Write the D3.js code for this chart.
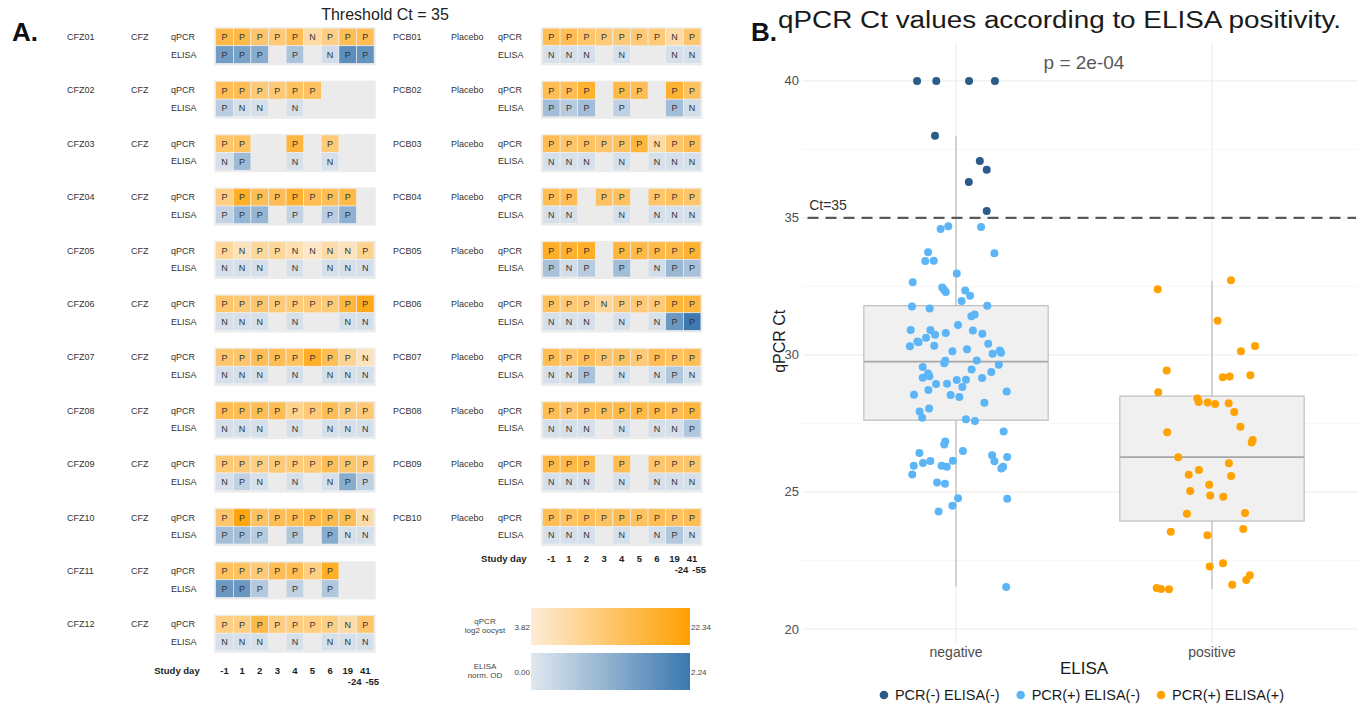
<!DOCTYPE html>
<html><head><meta charset="utf-8">
<script src="https://cdn.jsdelivr.net/npm/d3@7"></script>
<style>body{margin:0;background:#fff}svg{display:block;font-family:"Liberation Sans",Arial,sans-serif}</style>
</head><body><svg id="c" width="1358" height="706"></svg>
<script>
// ---------- Panel A data ----------
const studyDays = ["-1","1","2","3","4","5","6","19","41"];
const studyDaysSub = ["","","","","","","","-24","-55"];
const cfzIds = ["CFZ01","CFZ02","CFZ03","CFZ04","CFZ05","CFZ06","CFZ07","CFZ08","CFZ09","CFZ10","CFZ11","CFZ12"];
const pcbIds = ["PCB01","PCB02","PCB03","PCB04","PCB05","PCB06","PCB07","PCB08","PCB09","PCB10"];
const cfzQpcrCalls = ["PPPPPNPPP","PPPPPP---","PP--P-P--","PPPPPPPP-","PNPPNNNNP","PPPPPPPPP","PPPPPPPPN","PPPPPPPPP","PPPPPPPPP","PPPPPPPPN","PPPPPPP--","PPPPPPPNP"];
const cfzElisaCalls = ["PPP-P-NPP","PNN-N----","NP--N-N--","PPP-P-PP-","NNN-N-NNN","NNN-N--NN","NNN-N-NNN","NNN-N-NNN","NPN-N-NPP","PPP-P-PNN","PPP-P-P--","NNN-N-NNN"];
const cfzQpcrValues = [
  [16,16,13,12,15,8,11,15,15],
  [15,15,12,12,14,14,null,null,null],
  [13,14,null,null,17,null,12,null,null],
  [11,19,15,15,18,15,15,16,null],
  [9,6,9,9,7,5,8,6,10],
  [13,12,13,12,12,12,12,17,20],
  [13,13,15,15,14,19,15,10,6],
  [15,15,15,15,10,12,15,12,12],
  [12,12,11,12,12,12,15,13,12],
  [13,21,14,15,15,16,16,15,8],
  [14,14,12,15,15,11,19,null,null],
  [11,11,16,11,11,11,11,8,13]
];
const cfzElisaValues = [
  [1.5,1.4,1.2,null,0.7,null,0.2,1.8,1.7],
  [0.5,0.15,0.15,null,0.15,null,null,null,null],
  [0.15,0.9,null,null,0.15,null,0.15,null,null],
  [0.4,1.0,1.0,null,0.4,null,0.5,1.1,null],
  [0.15,0.15,0.15,null,0.15,null,0.15,0.15,0.15],
  [0.15,0.15,0.15,null,0.15,null,null,0.15,0.15],
  [0.15,0.15,0.15,null,0.15,null,0.15,0.15,0.15],
  [0.15,0.15,0.15,null,0.15,null,0.15,0.15,0.15],
  [0.15,0.45,0.15,null,0.15,null,0.15,1.2,0.45],
  [0.8,0.8,0.55,null,0.65,null,1.2,0.15,0.15],
  [1.6,1.6,0.6,null,0.45,null,0.65,null,null],
  [0.15,0.15,0.15,null,0.15,null,0.15,0.15,0.15]
];
const pcbQpcrCalls = ["PPPPPPPNP","PPP-PP-PP","PPPPPPNPP","PP-PP-PPP","PPP-PPPPP","PPPNPPPPP","PPPPPPPPP","PPPPPPPPP","PPP-P-PPP","PPPPPPPPP"];
const pcbElisaCalls = ["NNN-N--NN","PPP-P--PN","NNN-N-NNN","NN--N-NNN","PNP-P-NPP","NNN-N-NPP","NNP-N-NPN","NNN-N-NNP","NNN-N-NNN","NNN-N-NPN"];
const pcbQpcrValues = [
  [15,15,13,12,12,12,12,8,13],
  [15,15,18,null,16,15,null,18,14],
  [15,13,14,13,14,17,8,13,15],
  [15,15,null,14,14,null,13,14,13],
  [19,18,19,null,17,16,16,16,18],
  [14,12,12,9,12,12,12,17,17],
  [15,13,15,13,14,12,15,14,15],
  [15,13,15,15,16,16,16,15,17],
  [16,16,16,null,15,null,13,13,13],
  [15,14,15,14,15,14,15,14,15]
];
const pcbElisaValues = [
  [0.15,0.15,0.15,null,0.15,null,null,0.15,0.15],
  [0.85,0.55,0.85,null,0.45,null,null,0.85,0.2],
  [0.15,0.15,0.15,null,0.15,null,0.15,0.15,0.15],
  [0.15,0.15,null,null,0.15,null,0.15,0.15,0.15],
  [0.75,0.2,0.55,null,0.85,null,0.2,0.95,0.75],
  [0.15,0.15,0.15,null,0.15,null,0.15,1.6,2.2],
  [0.15,0.15,0.75,null,0.15,null,0.15,0.65,0.15],
  [0.15,0.15,0.15,null,0.15,null,0.15,0.15,0.65],
  [0.15,0.15,0.15,null,0.15,null,0.15,0.15,0.15],
  [0.15,0.15,0.15,null,0.15,null,0.15,0.65,0.15]
];
const qpcrRange = [3.82, 22.34];
const elisaRange = [0.00, 2.24];

// ---------- Panel B data ----------
const categories = ["negative","positive"];
const darkCt = [40,40,40,40,38.0,37.08,36.76,36.31,35.25];
const darkJitter = [-0.152,-0.077,0.051,0.152,-0.082,0.093,0.120,0.050,0.120];
const lightCt = [34.6,34.7,34.67,33.75,33.43,33.44,33.71,32.97,32.65,32.46,32.37,32.3,32.35,32.16,31.97,31.77,31.7,31.8,31.41,31.48,31.09,30.91,30.91,30.63,30.74,30.8,30.89,30.77,30.49,30.46,30.32,30.34,30.41,30.14,30.21,30.04,30.16,30.08,29.79,29.7,29.8,29.64,29.56,29.32,29.22,29.17,29.47,29.38,28.94,28.95,29.09,29.1,29.16,28.83,28.72,28.55,28.54,28.47,28.67,28.26,28.05,27.94,27.71,27.65,27.59,27.21,26.84,26.73,26.42,26.5,26.34,26.28,26.12,25.96,26.06,26.13,25.96,25.92,26.14,25.92,25.86,25.64,25.35,25.30,24.77,24.75,24.50,24.29,21.53];
const lightJitter = [-0.060,-0.030,0.098,-0.109,-0.120,-0.087,0.150,0.003,-0.169,-0.054,-0.046,-0.040,0.036,0.055,0.022,-0.172,-0.103,0.122,0.060,0.073,0.008,-0.177,-0.100,-0.117,-0.082,-0.040,0.066,0.103,-0.151,-0.146,-0.180,-0.085,0.126,-0.014,0.043,0.143,0.171,0.176,-0.042,-0.046,0.081,0.167,-0.130,-0.109,-0.104,-0.130,0.061,0.138,-0.078,-0.035,0.003,0.039,0.102,0.025,-0.108,-0.164,-0.021,0.013,0.198,0.111,-0.105,-0.142,-0.132,0.039,0.074,0.186,-0.042,-0.046,-0.143,0.027,0.141,0.200,0.150,-0.165,-0.129,-0.100,-0.056,-0.036,-0.012,0.184,0.177,-0.171,-0.074,-0.043,0.008,0.200,-0.014,-0.068,0.196];
const orangeCt = [32.73,32.4,31.25,30.33,30.14,29.43,29.19,29.21,29.26,28.64,28.41,28.28,28.27,28.21,28.24,27.92,27.38,26.9,26.81,27.18,26.27,26.05,25.58,25.8,25.63,25.26,25.04,24.87,24.83,24.21,24.23,23.55,23.42,23.65,22.4,22.28,21.96,21.79,21.62,21.5,21.46,21.45];
const orangeJitter = [0.074,-0.212,0.022,0.168,0.113,-0.177,0.042,0.069,0.150,-0.210,-0.057,-0.052,-0.017,0.012,0.065,0.087,0.111,0.159,0.155,-0.175,-0.132,0.066,0.075,-0.051,-0.091,-0.011,-0.085,-0.007,0.044,-0.098,0.129,-0.161,-0.018,0.122,0.043,-0.009,0.148,0.134,0.079,-0.216,-0.199,-0.168];
// box stats: [lower whisker, Q1, median, Q3, upper whisker]
const boxNegative = [21.54, 27.62, 29.76, 31.80, 38.0];
const boxPositive = [21.46, 23.94, 26.27, 28.50, 32.71];
const yTicks = [20,25,30,35,40];
const legendLabels = ["PCR(-) ELISA(-)","PCR(+) ELISA(-)","PCR(+) ELISA(+)"];
const seriesColors = ["#2b5b88","#5cb5f6","#ffa202"];

// ---------- drawing ----------
const svg = d3.select("#c");
const defs = svg.append("defs");
const qColor = d3.scaleLinear().domain(qpcrRange).range(["#fdecd6","#ffa000"]);
const eColor = d3.scaleLinear().domain(elisaRange).range(["#e0e7ef","#3b78af"]);

svg.append("text").attr("x",12).attr("y",41).attr("font-size",26).attr("font-weight","bold").attr("fill","#111").text("A.");
svg.append("text").attr("x",385).attr("y",20).attr("text-anchor","middle").attr("font-size",16).attr("fill","#222").text("Threshold Ct = 35");

function drawHeat(ids, groupLabel, qCalls, qVals, eCalls, eVals, L) {
  const g = svg.append("g");
  const yRow = d3.scaleLinear().domain([0, 1]).range([37, 90.4]);
  const xCell = d3.scaleBand().domain(d3.range(studyDays.length)).range([L.gridX, L.gridX + 158.4]);
  const bw = xCell.bandwidth(), ch = 17.6;
  ids.forEach((id, i) => {
    const cy = yRow(i);
    g.append("rect").attr("x", L.gridX - 1.6).attr("y", cy - 9.8).attr("width", 158.4 + 3.2).attr("height", 2*ch + 3).attr("fill", "#ebebeb");
    const lab = (x, y, t) => g.append("text").attr("x", x).attr("y", y).attr("font-size", 9).attr("fill", "#333").text(t);
    lab(L.idX, cy + 3, id);
    lab(L.grpX, cy + 3, groupLabel);
    lab(L.rowX, cy + 3, "qPCR");
    lab(L.rowX, cy + ch + 3, "ELISA");
    [[qCalls[i], qVals[i], qColor, cy - ch/2], [eCalls[i], eVals[i], eColor, cy + ch/2]].forEach(([calls, vals, col, top]) => {
      calls.split("").forEach((c, j) => {
        if (c === "-") return;
        g.append("rect").attr("x", xCell(j)).attr("y", top).attr("width", bw).attr("height", ch)
          .attr("fill", col(vals[j])).attr("stroke", "#f2f2f2").attr("stroke-width", 0.6);
        g.append("text").attr("x", xCell(j) + bw/2).attr("y", top + ch/2 + 3.2).attr("text-anchor", "middle")
          .attr("font-size", 9).attr("fill", "#333").text(c);
      });
    });
  });
  g.append("text").attr("x", L.gridX - 16).attr("y", L.dayY).attr("text-anchor", "end").attr("font-size", 9.5).attr("font-weight", "bold").attr("fill","#222").text("Study day");
  studyDays.forEach((d, j) => {
    g.append("text").attr("x", xCell(j) + bw/2).attr("y", L.dayY).attr("text-anchor", "middle").attr("font-size", 9.5).attr("font-weight", "bold").attr("fill","#222").text(d);
    if (studyDaysSub[j]) g.append("text").attr("x", xCell(j) + bw/2 + 7).attr("y", L.dayY + 11).attr("text-anchor", "middle").attr("font-size", 9.5).attr("font-weight", "bold").attr("fill","#222").text(studyDaysSub[j]);
  });
}
drawHeat(cfzIds, "CFZ", cfzQpcrCalls, cfzQpcrValues, cfzElisaCalls, cfzElisaValues, {idX: 67, grpX: 131, rowX: 171, gridX: 215.7, dayY: 674});
drawHeat(pcbIds, "Placebo", pcbQpcrCalls, pcbQpcrValues, pcbElisaCalls, pcbElisaValues, {idX: 393, grpX: 451, rowX: 498, gridX: 542.5, dayY: 562});

// colour bars
function colorBar(id, scale, y0, title1, title2, range) {
  const grad = defs.append("linearGradient").attr("id", id);
  d3.range(0, 1.0001, 0.1).forEach(t => grad.append("stop").attr("offset", t).attr("stop-color", scale(range[0] + t*(range[1]-range[0]))));
  svg.append("rect").attr("x", 531).attr("y", y0).attr("width", 159).attr("height", 37).attr("fill", `url(#${id})`);
  svg.append("text").attr("x", 485).attr("y", y0 + 16).attr("text-anchor", "middle").attr("font-size", 8).attr("fill","#444").text(title1);
  svg.append("text").attr("x", 485).attr("y", y0 + 25).attr("text-anchor", "middle").attr("font-size", 8).attr("fill","#444").text(title2);
  svg.append("text").attr("x", 530).attr("y", y0 + 22).attr("text-anchor", "end").attr("font-size", 8).attr("fill","#444").text(range[0].toFixed(2));
  svg.append("text").attr("x", 691).attr("y", y0 + 22).attr("font-size", 8).attr("fill","#444").text(range[1].toFixed(2));
}
colorBar("gq", qColor, 608, "qPCR", "log2 oocyst", qpcrRange);
colorBar("ge", eColor, 653, "ELISA", "norm. OD", elisaRange);

// ---------- Panel B ----------
const xB = d3.scaleLinear().domain([0.4, 2.6]).range([802.4, 1365.6]);
const yB = d3.scaleLinear().domain([19.49, 41.42]).range([643, 42]);
const gB = svg.append("g");
svg.append("text").attr("x",751).attr("y",41).attr("font-size",26).attr("font-weight","bold").attr("fill","#111").text("B.");
gB.append("text").attr("x",778).attr("y",28).attr("font-size",23).attr("textLength",563).attr("lengthAdjust","spacingAndGlyphs").attr("fill","#1a1a1a").text("qPCR Ct values according to ELISA positivity.");
// grid
d3.range(22.5, 41, 5).forEach(v => gB.append("line").attr("x1", xB(0.4)).attr("x2", 1358).attr("y1", yB(v)).attr("y2", yB(v)).attr("stroke", "#f4f4f4").attr("stroke-width", 0.7));
yTicks.forEach(v => gB.append("line").attr("x1", xB(0.4)).attr("x2", 1358).attr("y1", yB(v)).attr("y2", yB(v)).attr("stroke", "#ebebeb").attr("stroke-width", 1));
[1,2].forEach(v => gB.append("line").attr("x1", xB(v)).attr("x2", xB(v)).attr("y1", yB(41.42)).attr("y2", yB(19.49)).attr("stroke", "#ebebeb").attr("stroke-width", 1));
// axes text
yTicks.forEach(v => gB.append("text").attr("x", 799).attr("y", yB(v) + 4.5).attr("text-anchor","end").attr("font-size", 13).attr("fill","#4d4d4d").text(v));
categories.forEach((c, i) => gB.append("text").attr("x", xB(i+1)).attr("y", 657).attr("text-anchor","middle").attr("font-size", 14).attr("fill","#4d4d4d").text(c));
gB.append("text").attr("x", xB(1.5)).attr("y", 674).attr("text-anchor","middle").attr("font-size", 17).attr("fill","#1a1a1a").text("ELISA");
gB.append("text").attr("transform", `translate(785,${yB(30.5)}) rotate(-90)`).attr("text-anchor","middle").attr("font-size", 16).attr("fill","#1a1a1a").text("qPCR Ct");
// boxes
[boxNegative, boxPositive].forEach((b, i) => {
  const cx = i + 1, hw = 0.36;
  gB.append("line").attr("x1", xB(cx)).attr("x2", xB(cx)).attr("y1", yB(b[3])).attr("y2", yB(b[4])).attr("stroke","#bdbdbd").attr("stroke-width",1.2);
  gB.append("line").attr("x1", xB(cx)).attr("x2", xB(cx)).attr("y1", yB(b[1])).attr("y2", yB(b[0])).attr("stroke","#bdbdbd").attr("stroke-width",1.2);
  gB.append("rect").attr("x", xB(cx - hw)).attr("y", yB(b[3])).attr("width", xB(cx + hw) - xB(cx - hw)).attr("height", yB(b[1]) - yB(b[3]))
    .attr("fill","#f0f0f0").attr("stroke","#bdbdbd").attr("stroke-width",1.2);
  gB.append("line").attr("x1", xB(cx - hw)).attr("x2", xB(cx + hw)).attr("y1", yB(b[2])).attr("y2", yB(b[2])).attr("stroke","#a6a6a6").attr("stroke-width",1.8);
});
// threshold
gB.append("line").attr("x1", xB(0.42)).attr("x2", 1356).attr("y1", yB(35)).attr("y2", yB(35)).attr("stroke","#595959").attr("stroke-width",2.3).attr("stroke-dasharray","11,7");
gB.append("text").attr("x", xB(0.5)).attr("y", yB(35) - 8).attr("text-anchor","middle").attr("font-size",14).attr("fill","#333").text("Ct=35");
gB.append("text").attr("x", xB(1.5)).attr("y", yB(40.7) + 7).attr("text-anchor","middle").attr("font-size",19).attr("fill","#595959").text("p = 2e-04");
// points
[[darkCt, darkJitter, 1, 0],[lightCt, lightJitter, 1, 1],[orangeCt, orangeJitter, 2, 2]].forEach(([ct, jit, cat, k]) => {
  gB.selectAll(null).data(ct).enter().append("circle")
    .attr("cx", (d, i) => xB(cat + jit[i])).attr("cy", d => yB(d)).attr("r", 4).attr("fill", seriesColors[k]);
});
// legend (laid out from text widths, centred under the panel)
const leg = gB.append("g");
let lx = 0;
legendLabels.forEach((t, k) => {
  leg.append("circle").attr("cx", lx + 4).attr("cy", 695).attr("r", 4.3).attr("fill", seriesColors[k]);
  const tx = leg.append("text").attr("x", lx + 15).attr("y", 700).attr("font-size", 14.5).attr("fill","#1a1a1a").text(t);
  lx += 15 + tx.node().getComputedTextLength() + 17;
});
leg.attr("transform", `translate(${1082 - (lx - 17)/2},0)`);
</script></body></html>
